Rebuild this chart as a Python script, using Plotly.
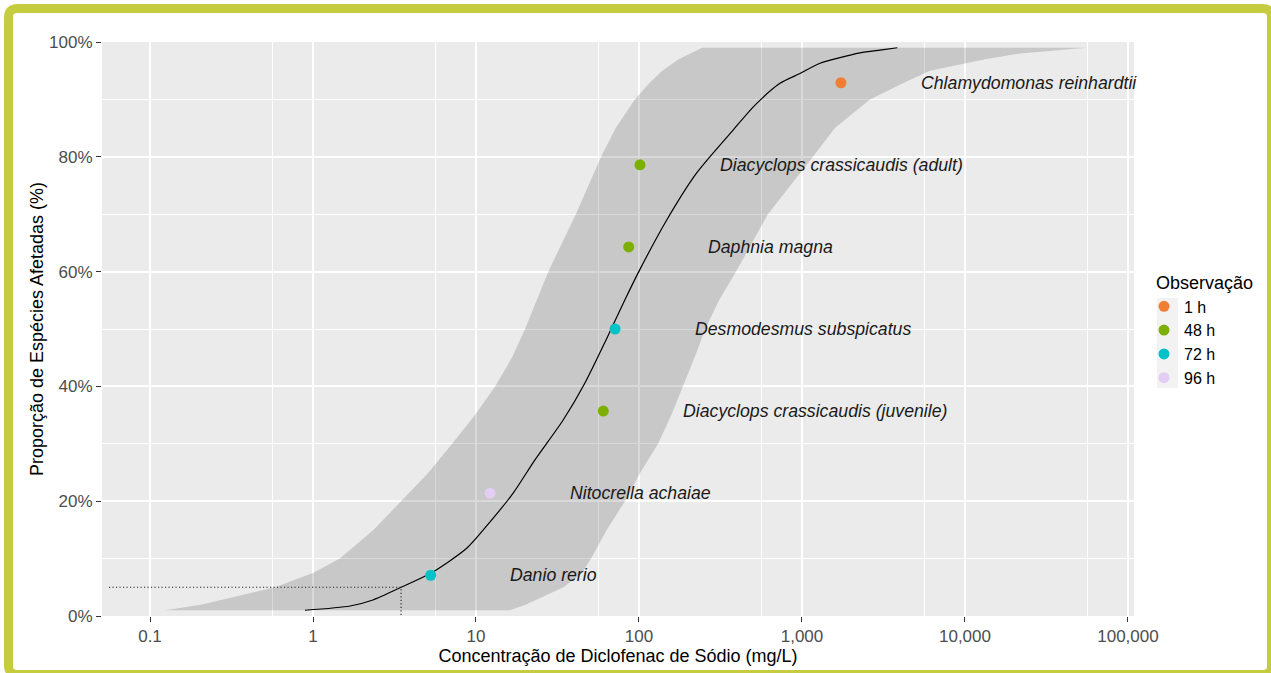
import math
import plotly.graph_objects as go

# ---------------- data ----------------
species = ["Danio rerio", "Nitocrella achaiae", "Diacyclops crassicaudis (juvenile)",
           "Desmodesmus subspicatus", "Daphnia magna", "Diacyclops crassicaudis (adult)",
           "Chlamydomonas reinhardtii"]
conc = [5.27, 12.2, 60.4, 71.3, 86.5, 101.4, 1734]
prop = [0.071, 0.214, 0.357, 0.500, 0.643, 0.786, 0.929]
obs = ["72 h", "96 h", "48 h", "72 h", "48 h", "48 h", "1 h"]

obs_levels = ["1 h", "48 h", "72 h", "96 h"]
obs_colors = ["#F07F35", "#7DAF00", "#00C2C8", "#E3CDF3"]

# fitted SSD curve
curve_x = [0.893, 1.69, 2.33, 3.47, 5.27, 8.77, 12.2, 16.9, 23.0, 34.2, 46.6, 62.8,
           82.0, 101, 148, 226, 379, 515, 733, 972, 1290, 2270, 3010, 3845]
curve_y = [0.010, 0.0174, 0.0279, 0.050, 0.0744, 0.118, 0.164, 0.214, 0.272, 0.341,
           0.406, 0.481, 0.551, 0.603, 0.690, 0.772, 0.847, 0.890, 0.928, 0.945,
           0.963, 0.981, 0.986, 0.990]

# confidence band (lower / upper concentration at each proportion)
band_y = [0.01, 0.02, 0.05, 0.075, 0.10, 0.15, 0.20, 0.25, 0.30, 0.35, 0.40, 0.45, 0.50,
          0.55, 0.60, 0.70, 0.80, 0.85, 0.90, 0.93, 0.95, 0.97, 0.98, 0.99]
band_lo = [0.124, 0.209, 0.585, 1.0, 1.46, 2.35, 3.47, 5.12, 7.14, 9.86, 13.1, 16.6, 20.0,
           23.7, 27.8, 41.0, 58.5, 72.0, 94.3, 117, 139, 175, 207, 244]
band_hi = [16.2, 20.3, 34.4, 44.7, 50.8, 63.4, 82.0, 102, 131, 158, 186, 219, 255,
           310, 394, 618, 1167, 1592, 2612, 4285, 6100, 13270, 21740, 56000]

# HC5
hc_p = 0.05
hc5 = 3.47
hc_line_start = 0.056

x_tickvals = [0.1, 1, 10, 100, 1000, 10000, 100000]
x_ticktext = ["0.1", "1", "10", "100", "1,000", "10,000", "100,000"]
x_minor = [0.5623, 5.623, 56.23, 562.3, 5623, 56234]
y_tickvals = [0, 0.2, 0.4, 0.6, 0.8, 1.0]
y_minor = [0.1, 0.3, 0.5, 0.7, 0.9]

label_factor = 3.0

# ---------------- figure ----------------
W, H = 1271, 673
ML, MR, MT, MB = 102, 137, 42, 57
PW, PH = W - ML - MR, H - MT - MB


def px(x):
    return (x - ML) / PW


def py(y):
    return (H - MB - y) / PH


FONT = "Liberation Sans, Arial, sans-serif"

fig = go.Figure()

fig.add_trace(go.Scatter(
    x=band_lo + band_hi[::-1], y=band_y + band_y[::-1],
    fill="toself", fillcolor="rgba(0,0,0,0.15)", line=dict(width=0),
    mode="lines", showlegend=False, hoverinfo="skip"))

fig.add_trace(go.Scatter(
    x=curve_x, y=curve_y, mode="lines",
    line=dict(color="black", width=1.2, shape="spline", smoothing=0.7),
    showlegend=False, hoverinfo="skip"))

fig.add_trace(go.Scatter(
    x=[hc_line_start, hc5, hc5], y=[hc_p, hc_p, 0], mode="lines",
    line=dict(color="#222222", width=1.1, dash="1.2px,2.3px"), showlegend=False, hoverinfo="skip"))

for lev, col in zip(obs_levels, obs_colors):
    xs = [c for c, o in zip(conc, obs) if o == lev]
    ys = [p for p, o in zip(prop, obs) if o == lev]
    fig.add_trace(go.Scatter(x=xs, y=ys, mode="markers", name=lev,
                             marker=dict(color=col, size=11, line=dict(width=0))))

annotations = []
for s, c, p in zip(species, conc, prop):
    annotations.append(dict(x=math.log10(c * label_factor), y=p, xref="x", yref="y",
                            text="<i>%s</i>" % s, showarrow=False, xanchor="left", yanchor="middle",
                            font=dict(family=FONT, size=17.7, color="#1A1A1A")))

# frame border (rounded rectangle)
L, T, R, B, r = 8.5, 8.5, 1271.5, 674.5, 9
pts = [("M", L, T + r), ("Q", L, T, L + r, T), ("L", R - r, T), ("Q", R, T, R, T + r),
       ("L", R, B - r), ("Q", R, B, R - r, B), ("L", L + r, B), ("Q", L, B, L, B - r)]
path = ""
for p_ in pts:
    cmd = p_[0]
    coords = p_[1:]
    parts = []
    for i in range(0, len(coords), 2):
        parts.append("%.5f,%.5f" % (px(coords[i]), py(coords[i + 1])))
    path += cmd + " " + " ".join(parts) + " "
path += "Z"

shapes = [
    dict(type="path", path=path, xref="paper", yref="paper",
         line=dict(color="#C6CC3F", width=9), fillcolor="rgba(0,0,0,0)", layer="above"),
    dict(type="rect", xref="paper", yref="paper", x0=px(1157), x1=px(1178), y0=py(298), y1=py(388),
         fillcolor="#F2F2F2", line=dict(width=0), layer="below"),
]

fig.update_layout(
    width=W, height=H,
    margin=dict(l=ML, r=MR, t=MT, b=MB, pad=0, autoexpand=False),
    paper_bgcolor="white", plot_bgcolor="#EBEBEB",
    font=dict(family=FONT, size=17, color="#4D4D4D"),
    showlegend=True,
    legend=dict(title=dict(text="&nbsp;&nbsp;Observação", font=dict(size=18, color="black")),
                font=dict(size=16, color="black"), x=px(1144), y=py(266),
                xanchor="left", yanchor="top", bgcolor="rgba(0,0,0,0)", itemsizing="trace",
                tracegroupgap=0),
    annotations=annotations,
    shapes=shapes,
    xaxis=dict(type="log", range=[-1.2945, 5.037], tickvals=x_tickvals, ticktext=x_ticktext,
               automargin=False,
               showgrid=True, gridcolor="white", gridwidth=1.6, zeroline=False, showline=False,
               ticks="outside", ticklen=5, tickwidth=1, tickcolor="#333333",
               tickfont=dict(size=17, color="#4D4D4D"),
               minor=dict(tickvals=x_minor, showgrid=True, gridcolor="white", gridwidth=0.8, ticks=""),
               title=dict(text="Concentração de Diclofenac de Sódio (mg/L)",
                          font=dict(size=18, color="black"), standoff=2)),
    yaxis=dict(range=[0, 1], tickvals=y_tickvals, tickformat=".0%",
               automargin=False,
               showgrid=True, gridcolor="white", gridwidth=1.6, zeroline=False, showline=False,
               ticks="outside", ticklen=5, tickwidth=1, tickcolor="#333333",
               tickfont=dict(size=17, color="#4D4D4D"),
               minor=dict(tickvals=y_minor, showgrid=True, gridcolor="white", gridwidth=0.8, ticks=""),
               title=dict(text="Proporção de Espécies Afetadas (%)",
                          font=dict(size=18, color="black"), standoff=0)),
)

fig.write_html("out.html", config={"displayModeBar": False},
               post_script="document.body.style.margin='0';document.body.style.overflow='hidden';")
